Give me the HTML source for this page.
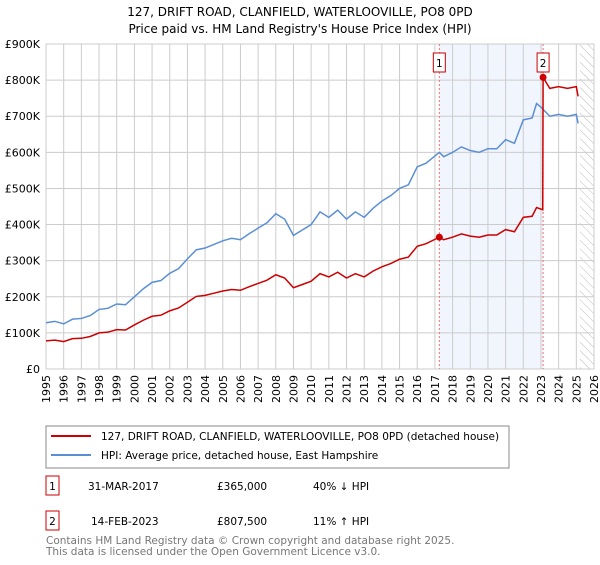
<!DOCTYPE html>
<html><head><meta charset="utf-8"><style>
body{margin:0;background:#fff;font-family:"Liberation Sans","DejaVu Sans",sans-serif;}
#wrap{position:relative;width:600px;height:560px;}
</style></head><body><div id="wrap">
<svg id="svg" width="600" height="560" xmlns="http://www.w3.org/2000/svg" font-family="DejaVu Sans, Liberation Sans, sans-serif">
<text x="300" y="16" text-anchor="middle" font-size="12">127, DRIFT ROAD, CLANFIELD, WATERLOOVILLE, PO8 0PD</text>
<text x="300" y="33" text-anchor="middle" font-size="12">Price paid vs. HM Land Registry's House Price Index (HPI)</text>
<g id="plot"></g>
<rect x="46" y="426" width="463" height="42" fill="#fff" stroke="#888"/>
<line x1="51" y1="436" x2="91" y2="436" stroke="#cc0000" stroke-width="2"/>
<text x="101" y="440" font-size="10.5">127, DRIFT ROAD, CLANFIELD, WATERLOOVILLE, PO8 0PD (detached house)</text>
<line x1="51" y1="455" x2="91" y2="455" stroke="#5b8fd4" stroke-width="2"/>
<text x="101" y="459" font-size="10.5">HPI: Average price, detached house, East Hampshire</text>
<g>
<rect x="46" y="476" width="13" height="19" fill="#fff" stroke="#cc0000"/>
<text x="52.5" y="490" font-size="10.5" text-anchor="middle">1</text>
<text x="88" y="490" font-size="10.5">31-MAR-2017</text>
<text x="217" y="490" font-size="10.5">£365,000</text>
<text x="313" y="490" font-size="10.5">40% ↓ HPI</text></g>
<g>
<rect x="46" y="511" width="13" height="19" fill="#fff" stroke="#cc0000"/>
<text x="52.5" y="525" font-size="10.5" text-anchor="middle">2</text>
<text x="91" y="525" font-size="10.5">14-FEB-2023</text>
<text x="217" y="525" font-size="10.5">£807,500</text>
<text x="313" y="525" font-size="10.5">11% ↑ HPI</text></g>
<text x="46" y="544" font-size="10.5" fill="#777">Contains HM Land Registry data © Crown copyright and database right 2025.</text>
<text x="46" y="555" font-size="10.5" fill="#777">This data is licensed under the Open Government Licence v3.0.</text>
</svg></div>
<script>
const hpiYears=[1995,1995.5,1996,1996.5,1997,1997.5,1998,1998.5,1999,1999.5,2000,2000.5,2001,2001.5,2002,2002.5,2003,2003.5,2004,2004.5,2005,2005.5,2006,2006.5,2007,2007.5,2008,2008.5,2009,2009.5,2010,2010.5,2011,2011.5,2012,2012.5,2013,2013.5,2014,2014.5,2015,2015.5,2016,2016.5,2017,2017.25,2017.5,2018,2018.5,2019,2019.5,2020,2020.5,2021,2021.5,2022,2022.5,2022.75,2023,2023.5,2024,2024.5,2025,2025.1];
const hpiValues=[128,132,125,138,140,148,165,168,180,178,200,222,240,245,265,278,305,330,335,345,355,362,358,375,390,405,430,415,370,385,400,435,420,440,415,435,420,445,465,480,500,510,560,570,590,600,588,600,615,605,600,610,610,635,625,690,695,735,725,700,705,700,705,680];
const priceYears=[1995,1995.5,1996,1996.5,1997,1997.5,1998,1998.5,1999,1999.5,2000,2000.5,2001,2001.5,2002,2002.5,2003,2003.5,2004,2004.5,2005,2005.5,2006,2006.5,2007,2007.5,2008,2008.5,2009,2009.5,2010,2010.5,2011,2011.5,2012,2012.5,2013,2013.5,2014,2014.5,2015,2015.5,2016,2016.5,2017,2017.25,2017.5,2018,2018.5,2019,2019.5,2020,2020.5,2021,2021.5,2022,2022.5,2022.75,2023.1,2023.12,2023.5,2024,2024.5,2025,2025.1];
const priceValues=[78,80,76,84,85,90,100,102,109,108,122,135,146,149,161,169,185,201,204,210,216,220,218,228,237,246,261,252,225,234,243,264,255,268,252,264,255,271,283,292,304,310,340,347,359,365,358,365,374,368,365,371,371,386,380,420,423,447,441,807.5,777,782,777,782,755];
const saleYears=[2017.25,2023.12];
const saleValues=[365,807.5];
const saleLabels=["1","2"];
const yTicks=[0,100,200,300,400,500,600,700,800,900];
const yTickLabels=["£0","£100K","£200K","£300K","£400K","£500K","£600K","£700K","£800K","£900K"];
const xTicks=[1995,1996,1997,1998,1999,2000,2001,2002,2003,2004,2005,2006,2007,2008,2009,2010,2011,2012,2013,2014,2015,2016,2017,2018,2019,2020,2021,2022,2023,2024,2025,2026];

const L=46,R=594,T=44,B=369,X0=1995,X1=2026;
const xs=v=>L+(v-X0)/(X1-X0)*(R-L);
const ys=v=>B-v/900*(B-T);
const NS="http://www.w3.org/2000/svg";
const g=document.getElementById('plot');
function mk(t,a,p){const e=document.createElementNS(NS,t);for(const k in a)e.setAttribute(k,a[k]);(p||g).appendChild(e);return e;}
// defs hatch
const defs=mk('defs',{});
const pat=mk('pattern',{id:'hatch',width:6,height:6,patternUnits:'userSpaceOnUse',patternTransform:'rotate(-45)'},defs);
mk('line',{x1:0,y1:0,x2:0,y2:6,stroke:'#bbb','stroke-width':1},pat);
mk('rect',{x:L,y:T,width:R-L,height:B-T,fill:'#fff'});
// shaded sale region
const sh=mk('rect',{x:xs(saleYears[0]),y:T,width:xs(saleYears[1])-xs(saleYears[0]),height:B-T,fill:'#eef3fc',opacity:0.8});


const hs=2025.2;
const ht=mk('rect',{x:xs(hs),y:T,width:R-xs(hs),height:B-T,fill:'url(#hatch)'});


// grid
yTicks.forEach((v,i)=>{
 const l=mk('line',{x1:L,x2:R,y1:ys(v),y2:ys(v),stroke:'#ccc'});
 
 
 const t=mk('text',{x:L-6,y:ys(v)+4,'text-anchor':'end','font-size':11});
 
 
 t.textContent=yTickLabels[i];
});
xTicks.forEach(v=>{
 const l=mk('line',{x1:xs(v),x2:xs(v),y1:T,y2:B,stroke:'#ccc'});
 
 
 const t=mk('text',{x:xs(v)+4,y:B+6,'text-anchor':'end','font-size':11,transform:`rotate(-90 ${xs(v)+4} ${B+6})`});
 
 
 t.textContent=v;
});
mk('rect',{x:L,y:T,width:R-L,height:B-T,fill:'none',stroke:'#ccc'});
// sale vlines
saleYears.forEach(v=>{
 const l=mk('line',{x1:xs(v),x2:xs(v),y1:T,y2:B,stroke:'#f07070','stroke-dasharray':'2,2'});
 
 
});
function line(xsArr,vs,col,name){
 const p=mk('polyline',{points:xsArr.map((x,i)=>xs(x)+','+ys(vs[i])).join(' '),fill:'none',stroke:col,'stroke-width':1.5});
 
 
}
line(hpiYears,hpiValues,'#5b8fd4','hpi-line');
line(priceYears,priceValues,'#cc0000','price-line');
saleYears.forEach((v,i)=>{
 const c=mk('circle',{cx:xs(v),cy:ys(saleValues[i]),r:3.5,fill:'#cc0000'});
 
 
 const bx=xs(v)-6;
 const r=mk('rect',{x:bx,y:53,width:12,height:19,fill:'#fff',stroke:'#cc0000'});
 
 
 const t=mk('text',{x:xs(v),y:67,'text-anchor':'middle','font-size':10.5});
 
 
 t.textContent=saleLabels[i];
});
</script></body></html>
